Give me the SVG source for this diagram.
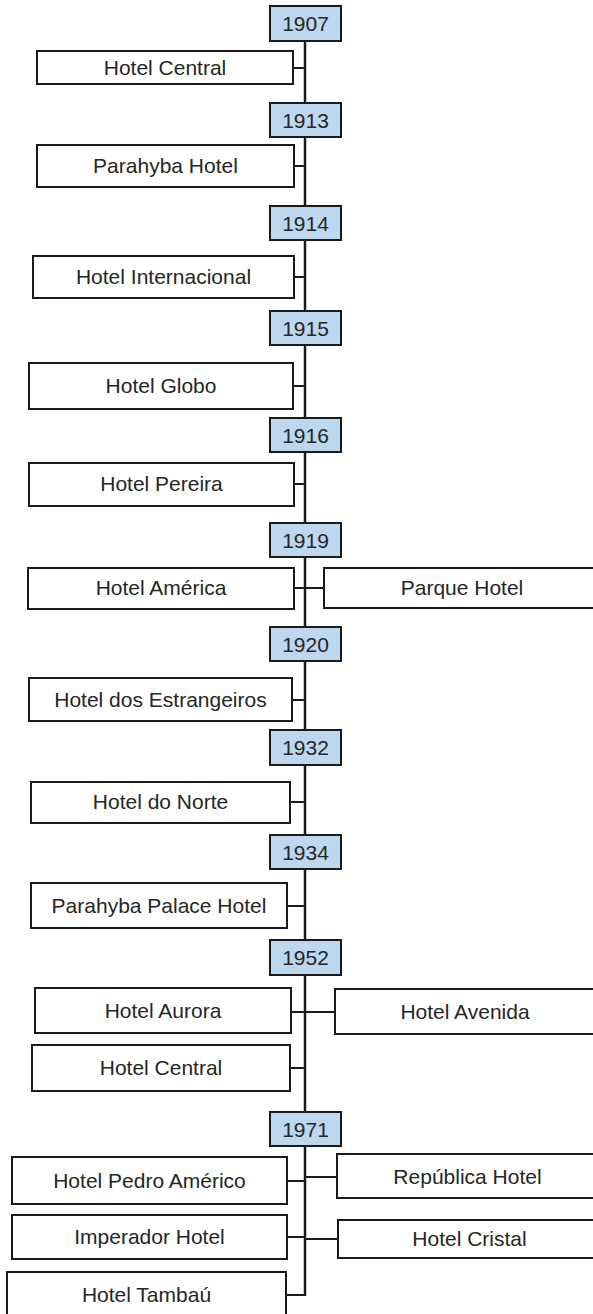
<svg xmlns="http://www.w3.org/2000/svg" width="593" height="1314" viewBox="0 0 593 1314">
<style>
.yr rect{fill:#BDD7EE;stroke:#1a1a1a;stroke-width:2}
.ht rect{fill:#fff;stroke:#1a1a1a;stroke-width:2}
text{font-family:"Liberation Sans",Arial,sans-serif;font-size:21px;fill:#262626;text-anchor:middle}
.conn line{stroke:#1a1a1a;stroke-width:2}
.conn .spine{stroke-width:2.5}
</style>
<rect width="593" height="1314" fill="#fff"/>
<g class="conn" id="connectors">
<line class="spine" x1="305" y1="40" x2="305" y2="1296"/>
<line x1="293" y1="68" x2="305" y2="68"/>
<line x1="294" y1="166" x2="305" y2="166"/>
<line x1="294" y1="277" x2="305" y2="277"/>
<line x1="293" y1="386" x2="305" y2="386"/>
<line x1="294" y1="484" x2="305" y2="484"/>
<line x1="294" y1="588" x2="324" y2="588"/>
<line x1="292" y1="700" x2="305" y2="700"/>
<line x1="290" y1="802" x2="305" y2="802"/>
<line x1="287" y1="906" x2="305" y2="906"/>
<line x1="291" y1="1012" x2="335" y2="1012"/>
<line x1="290" y1="1068" x2="305" y2="1068"/>
<line x1="287" y1="1181" x2="305" y2="1181"/>
<line x1="305" y1="1177" x2="337" y2="1177"/>
<line x1="287" y1="1237" x2="305" y2="1237"/>
<line x1="305" y1="1239" x2="338" y2="1239"/>
<line x1="286" y1="1295" x2="305" y2="1295"/>
</g>
<g class="yr" id="y1907"><rect x="270" y="6" width="71" height="35"/><text x="305.5" y="31">1907</text></g>
<g class="yr" id="y1913"><rect x="270" y="103" width="71" height="34"/><text x="305.5" y="128">1913</text></g>
<g class="yr" id="y1914"><rect x="270" y="206" width="71" height="34"/><text x="305.5" y="231">1914</text></g>
<g class="yr" id="y1915"><rect x="270" y="311" width="71" height="34"/><text x="305.5" y="336">1915</text></g>
<g class="yr" id="y1916"><rect x="270" y="418" width="71" height="34"/><text x="305.5" y="443">1916</text></g>
<g class="yr" id="y1919"><rect x="270" y="523" width="71" height="34"/><text x="305.5" y="548">1919</text></g>
<g class="yr" id="y1920"><rect x="270" y="627" width="71" height="34"/><text x="305.5" y="652">1920</text></g>
<g class="yr" id="y1932"><rect x="270" y="730" width="71" height="35"/><text x="305.5" y="755">1932</text></g>
<g class="yr" id="y1934"><rect x="270" y="835" width="71" height="34"/><text x="305.5" y="860">1934</text></g>
<g class="yr" id="y1952"><rect x="270" y="940" width="71" height="35"/><text x="305.5" y="965">1952</text></g>
<g class="yr" id="y1971"><rect x="270" y="1112" width="71" height="34"/><text x="305.5" y="1137">1971</text></g>
<g class="ht" id="h-central1"><rect x="37" y="51" width="256" height="33"/><text x="165" y="75">Hotel Central</text></g>
<g class="ht" id="h-parahyba"><rect x="37" y="145" width="257" height="42"/><text x="165.5" y="173">Parahyba Hotel</text></g>
<g class="ht" id="h-internacional"><rect x="33" y="256" width="261" height="42"/><text x="163.5" y="284">Hotel Internacional</text></g>
<g class="ht" id="h-globo"><rect x="29" y="363" width="264" height="46"/><text x="161" y="393">Hotel Globo</text></g>
<g class="ht" id="h-pereira"><rect x="29" y="463" width="265" height="43"/><text x="161.5" y="491">Hotel Pereira</text></g>
<g class="ht" id="h-america"><rect x="28" y="568" width="266" height="41"/><text x="161" y="595">Hotel América</text></g>
<g class="ht" id="h-parque"><rect x="324" y="568" width="276" height="40"/><text x="462" y="595">Parque Hotel</text></g>
<g class="ht" id="h-estrangeiros"><rect x="29" y="678" width="263" height="43"/><text x="160.5" y="707">Hotel dos Estrangeiros</text></g>
<g class="ht" id="h-norte"><rect x="31" y="782" width="259" height="41"/><text x="160.5" y="809">Hotel do Norte</text></g>
<g class="ht" id="h-palace"><rect x="31" y="883" width="256" height="45"/><text x="159" y="913">Parahyba Palace Hotel</text></g>
<g class="ht" id="h-aurora"><rect x="35" y="988" width="256" height="45"/><text x="163" y="1018">Hotel Aurora</text></g>
<g class="ht" id="h-avenida"><rect x="335" y="989" width="262" height="45"/><text x="465" y="1019">Hotel Avenida</text></g>
<g class="ht" id="h-central2"><rect x="32" y="1045" width="258" height="46"/><text x="161" y="1075">Hotel Central</text></g>
<g class="ht" id="h-pedro"><rect x="12" y="1157" width="275" height="47"/><text x="149.5" y="1188">Hotel Pedro Américo</text></g>
<g class="ht" id="h-republica"><rect x="337" y="1154" width="262" height="44"/><text x="467.5" y="1184">República Hotel</text></g>
<g class="ht" id="h-imperador"><rect x="12" y="1215" width="275" height="44"/><text x="149.5" y="1244">Imperador Hotel</text></g>
<g class="ht" id="h-cristal"><rect x="338" y="1220" width="263" height="38"/><text x="469.5" y="1246">Hotel Cristal</text></g>
<g class="ht" id="h-tambau"><rect x="7" y="1272" width="279" height="50"/><text x="146.5" y="1302">Hotel Tambaú</text></g>
</svg>
